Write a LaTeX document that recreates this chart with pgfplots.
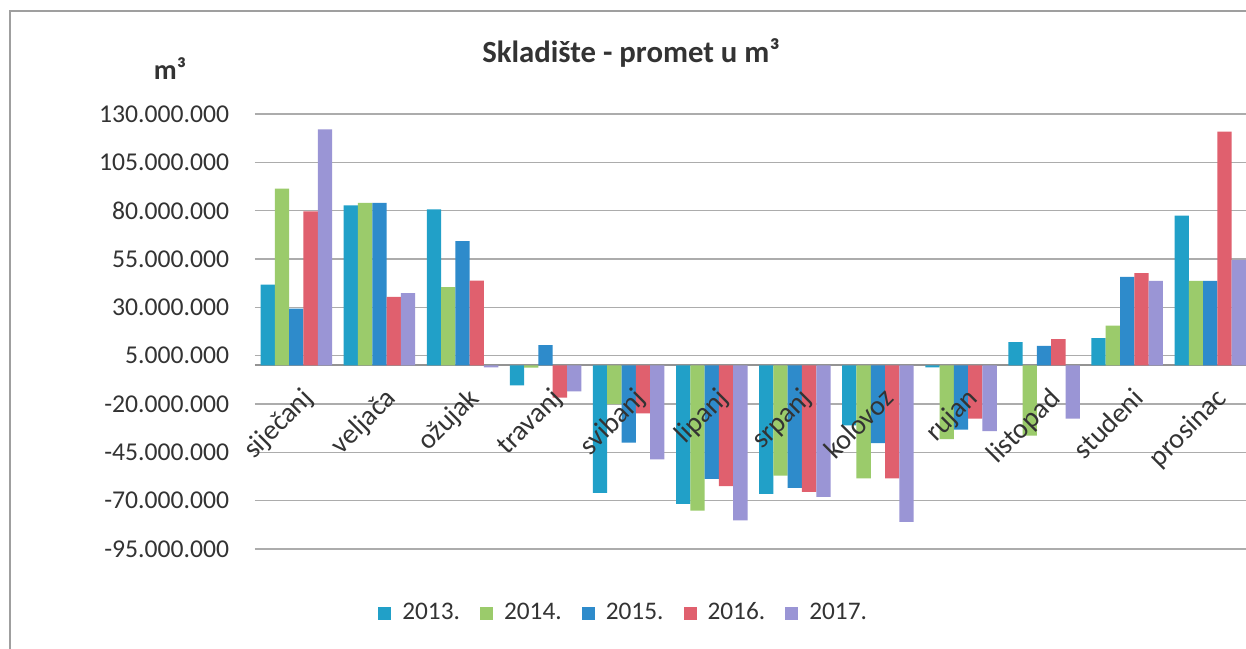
\documentclass[border=0pt]{standalone}
\usepackage{fontspec}
\setmainfont{Carlito}
\usepackage{pgfplots}
\pgfplotsset{compat=1.18}
\definecolor{cA}{HTML}{21A0C8}
\definecolor{cB}{HTML}{9BCB6B}
\definecolor{cC}{HTML}{2E8BCB}
\definecolor{cD}{HTML}{E0606E}
\definecolor{cE}{HTML}{9A95D5}
\definecolor{txt}{HTML}{333333}
\begin{document}
\begin{tikzpicture}
\useasboundingbox (0,0) rectangle (124.6mm,64.9mm);
\clip (0,0) rectangle (124.6mm,64.9mm);
\fill[white] (0,0) rectangle (124.6mm,64.9mm);
\draw[draw=gray!75, line width=0.2mm] (130mm,63.8mm) -- (1.0mm,63.8mm) -- (1.0mm,-1mm);
\node[font=\bfseries\fontsize{8.75}{10}\selectfont, text=txt, anchor=base] at (63.1mm,58.6mm) {Skladište - promet u m³};
\node[font=\bfseries\fontsize{8}{10}\selectfont, text=txt, anchor=base] at (17.0mm,56.9mm) {m³};
\begin{axis}[
  at={(25.48mm,10mm)}, anchor=south west,
  scale only axis, width=99.7mm, height=43.5mm,
  xmin=-0.5, xmax=11.5, ymin=-95, ymax=130,
  ybar=0pt, bar width=1.43mm,
  axis line style={draw=none},
  major tick length=0pt,
  xtick=\empty,
  ytick={-95,-70,-45,-20,5,30,55,80,105,130},
  yticklabels={-95.000.000,-70.000.000,-45.000.000,-20.000.000,5.000.000,30.000.000,55.000.000,80.000.000,105.000.000,130.000.000},
  yticklabel style={font=\fontsize{7.3}{8}\selectfont, text=txt, inner sep=0pt, xshift=-2.5mm},
  ymajorgrids, grid style={draw=gray!65, line width=0.16mm},
  extra y ticks={0}, extra y tick labels={},
  extra y tick style={grid style={draw=gray!85, line width=0.2mm}},
  clip mode=individual,
  legend columns=5,
  legend style={at={(0.3725,-0.149)}, anchor=center, draw=none, fill=none,
    font=\fontsize{7.2}{9}\selectfont, text=txt,
    /tikz/every odd column/.append style={column sep=0.4mm},
    /tikz/every even column/.append style={column sep=1.3mm}},
  legend cell align=left,
]
\addplot[fill=cA, draw=none, legend image code/.code={\fill[cA] (0mm,-0.65mm) rectangle (1.3mm,0.65mm);}] coordinates {
(0,41.8) (1,82.8) (2,80.7) (3,-10.4) (4,-66.0) (5,-71.7) (6,-66.5) (7,-31.0) (8,-1.0) (9,12.0) (10,14.1) (11,77.4)};
\addlegendentry{2013.}
\addplot[fill=cB, draw=none, legend image code/.code={\fill[cB] (0mm,-0.65mm) rectangle (1.3mm,0.65mm);}] coordinates {
(0,91.4) (1,84.0) (2,40.5) (3,-1.2) (4,-20.0) (5,-75.2) (6,-57.0) (7,-58.5) (8,-38.2) (9,-36.3) (10,20.5) (11,43.7)};
\addlegendentry{2014.}
\addplot[fill=cC, draw=none, legend image code/.code={\fill[cC] (0mm,-0.65mm) rectangle (1.3mm,0.65mm);}] coordinates {
(0,29.3) (1,84.0) (2,64.3) (3,10.4) (4,-40.0) (5,-58.7) (6,-63.4) (7,-40.3) (8,-33.3) (9,10.1) (10,45.7) (11,43.7)};
\addlegendentry{2015.}
\addplot[fill=cD, draw=none, legend image code/.code={\fill[cD] (0mm,-0.65mm) rectangle (1.3mm,0.65mm);}] coordinates {
(0,79.7) (1,35.4) (2,43.8) (3,-16.7) (4,-24.9) (5,-62.5) (6,-65.5) (7,-58.5) (8,-27.6) (9,13.6) (10,47.7) (11,120.9)};
\addlegendentry{2016.}
\addplot[fill=cE, draw=none, legend image code/.code={\fill[cE] (0mm,-0.65mm) rectangle (1.3mm,0.65mm);}] coordinates {
(0,122.0) (1,37.4) (2,-1.0) (3,-13.5) (4,-48.6) (5,-80.2) (6,-68.0) (7,-81.0) (8,-34.0) (9,-27.6) (10,43.7) (11,54.5)};
\addlegendentry{2017.}
\node[rotate=45, anchor=north east, font=\fontsize{8}{9}\selectfont, text=txt, inner sep=0pt] at ([xshift=0.4mm,yshift=-2.0mm]axis cs:0,0) {siječanj};
\node[rotate=45, anchor=north east, font=\fontsize{8}{9}\selectfont, text=txt, inner sep=0pt] at ([xshift=0.4mm,yshift=-2.0mm]axis cs:1,0) {veljača};
\node[rotate=45, anchor=north east, font=\fontsize{8}{9}\selectfont, text=txt, inner sep=0pt] at ([xshift=0.4mm,yshift=-2.0mm]axis cs:2,0) {ožujak};
\node[rotate=45, anchor=north east, font=\fontsize{8}{9}\selectfont, text=txt, inner sep=0pt] at ([xshift=0.4mm,yshift=-2.0mm]axis cs:3,0) {travanj};
\node[rotate=45, anchor=north east, font=\fontsize{8}{9}\selectfont, text=txt, inner sep=0pt] at ([xshift=0.4mm,yshift=-2.0mm]axis cs:4,0) {svibanj};
\node[rotate=45, anchor=north east, font=\fontsize{8}{9}\selectfont, text=txt, inner sep=0pt] at ([xshift=0.4mm,yshift=-2.0mm]axis cs:5,0) {lipanj};
\node[rotate=45, anchor=north east, font=\fontsize{8}{9}\selectfont, text=txt, inner sep=0pt] at ([xshift=0.4mm,yshift=-2.0mm]axis cs:6,0) {srpanj};
\node[rotate=45, anchor=north east, font=\fontsize{8}{9}\selectfont, text=txt, inner sep=0pt] at ([xshift=0.4mm,yshift=-2.0mm]axis cs:7,0) {kolovoz};
\node[rotate=45, anchor=north east, font=\fontsize{8}{9}\selectfont, text=txt, inner sep=0pt] at ([xshift=0.4mm,yshift=-2.0mm]axis cs:8,0) {rujan};
\node[rotate=45, anchor=north east, font=\fontsize{8}{9}\selectfont, text=txt, inner sep=0pt] at ([xshift=0.4mm,yshift=-2.0mm]axis cs:9,0) {listopad};
\node[rotate=45, anchor=north east, font=\fontsize{8}{9}\selectfont, text=txt, inner sep=0pt] at ([xshift=0.4mm,yshift=-2.0mm]axis cs:10,0) {studeni};
\node[rotate=45, anchor=north east, font=\fontsize{8}{9}\selectfont, text=txt, inner sep=0pt] at ([xshift=0.4mm,yshift=-2.0mm]axis cs:11,0) {prosinac};
\end{axis}
\end{tikzpicture}
\end{document}
